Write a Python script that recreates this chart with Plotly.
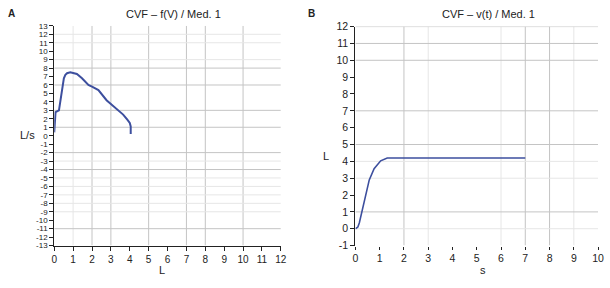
import plotly.graph_objects as go

# ---- data ----
# Panel A: flow-volume curve (L vs L/s)
vol_A = [0.0, 0.02, 0.07, 0.25, 0.33, 0.42, 0.51, 0.59, 0.68, 0.85, 1.2, 1.47, 1.81, 2.0, 2.34, 2.77, 3.21, 3.65, 3.87, 4.0, 4.05, 4.05]
flow_A = [0.4, 1.5, 2.8, 3.0, 4.3, 5.5, 6.8, 7.2, 7.4, 7.5, 7.3, 6.8, 6.0, 5.8, 5.4, 4.2, 3.3, 2.5, 1.9, 1.5, 1.1, 0.2]
# Panel B: volume-time curve (s vs L)
t_B = [0.0, 0.1, 0.16, 0.3, 0.43, 0.57, 0.77, 1.04, 1.31, 7.0]
vol_B = [0.0, 0.1, 0.34, 1.28, 2.14, 2.9, 3.56, 4.03, 4.2, 4.2]

xt_A = list(range(0, 13))
yt_A = list(range(-13, 14))
xt_B = list(range(0, 11))
yt_B = list(range(-1, 13))

gridA_x_dark = [2, 3, 5, 7, 8, 10]
gridA_x_light = [1]
gridA_y_dark = [8, 6, 3, 1, -2, -4, -11]
gridA_y_light = [12, 11, 9, -3, -5, -6, -7, -8, -9]
gridB_x_dark = [2, 7, 8]
gridB_x_light = [3, 6, 9]
gridB_y_dark = [12, 11, 10, 7, 5, 1]
gridB_y_light = [4, 3, 0]

W, H = 610, 288
FONT = "Liberation Sans Narrow, Arial Narrow, Liberation Sans, sans-serif"
LINE = "#3d4f9e"

def px(x):
    return x / W

def py(y):
    return 1 - y / H

def lbl(v):
    return str(v).replace("−", "-")

fig = go.Figure()
fig.add_trace(go.Scatter(x=vol_A, y=flow_A, mode="lines", xaxis="x", yaxis="y",
                         line=dict(color=LINE, width=2), showlegend=False))
fig.add_trace(go.Scatter(x=t_B, y=vol_B, mode="lines", xaxis="x2", yaxis="y2",
                         line=dict(color=LINE, width=1.6), showlegend=False))

shapes = []
def vgrid(vals, xr, yr, y0, y1, color):
    for v in vals:
        shapes.append(dict(type="line", xref=xr, yref=yr, x0=v, x1=v, y0=y0, y1=y1,
                           line=dict(color=color, width=1), layer="below"))
def hgrid(vals, xr, yr, x0, x1, color):
    for v in vals:
        shapes.append(dict(type="line", xref=xr, yref=yr, x0=x0, x1=x1, y0=v, y1=v,
                           line=dict(color=color, width=1), layer="below"))

DARK = "#c4c4c4"
LIGHT = "#e6e6e6"
vgrid(gridA_x_dark, "x", "y", -13, 13, DARK)
vgrid(gridA_x_light, "x", "y", -13, 13, LIGHT)
hgrid(gridA_y_dark, "x", "y", 0, 12, DARK)
hgrid(gridA_y_light, "x", "y", 0, 12, LIGHT)
vgrid(gridB_x_dark, "x2", "y2", -1, 12, DARK)
vgrid(gridB_x_light, "x2", "y2", -1, 12, LIGHT)
hgrid(gridB_y_dark, "x2", "y2", 0, 10, DARK)
hgrid(gridB_y_light, "x2", "y2", 0, 10, LIGHT)

tickfont_small = dict(family=FONT, size=8, color="#222")
tickfont = dict(family=FONT, size=10.5, color="#222")

def ann(text, x, y, size=11, family=FONT):
    return dict(text=text, x=px(x), y=py(y), xref="paper", yref="paper",
                xanchor="center", yanchor="middle", showarrow=False,
                font=dict(family=family, size=size, color="#222"))

fig.update_layout(
    width=W, height=H,
    margin=dict(l=0, r=0, t=0, b=0),
    paper_bgcolor="white", plot_bgcolor="white",
    shapes=shapes,
    xaxis=dict(domain=[px(52), px(282)], range=[0, 12], anchor="y",
               tickvals=xt_A, ticktext=[lbl(v) for v in xt_A],
               showgrid=False, zeroline=False,
               showline=True, linecolor="#222", linewidth=1,
               ticks="outside", ticklen=4, tickcolor="#222",
               tickfont=dict(family=FONT, size=10, color="#222")),
    yaxis=dict(domain=[py(250), py(20.7)], range=[-13, 13], anchor="x",
               tickvals=yt_A, ticktext=[lbl(v) for v in yt_A],
               showgrid=False, zeroline=False,
               showline=True, linecolor="#222", linewidth=1,
               ticks="outside", ticklen=4, tickcolor="#222",
               tickfont=tickfont_small),
    xaxis2=dict(domain=[px(357.7), px(604)], range=[0, 10], anchor="y2",
                tickvals=xt_B, ticktext=[lbl(v) for v in xt_B],
                showgrid=False, zeroline=False,
                showline=False, ticks="outside", ticklen=3, tickcolor="#222",
                tickfont=tickfont),
    yaxis2=dict(domain=[py(250), py(21.5)], range=[-1, 12], anchor="x2",
                tickvals=yt_B, ticktext=[lbl(v) for v in yt_B],
                showgrid=False, zeroline=False,
                showline=True, linecolor="#222", linewidth=1.3,
                ticks="outside", ticklen=4, tickcolor="#222",
                tickfont=tickfont),
    annotations=[
        ann("<b>A</b>", 9, 8, 10, "Liberation Sans, Arial"),
        ann("<b>B</b>", 313, 8, 10, "Liberation Sans, Arial"),
        ann("CVF – f(V) / Med. 1", 173, 8),
        ann("CVF – v(t) / Med. 1", 493, 8),
        ann("L/s", 25, 135),
        ann("L", 161, 275),
        ann("L", 328, 157),
        ann("s", 487, 275),
    ],
)

fig.write_html("out.html", config={"displayModeBar": False},
               post_script="document.body.style.margin='0';document.body.style.overflow='hidden';")
